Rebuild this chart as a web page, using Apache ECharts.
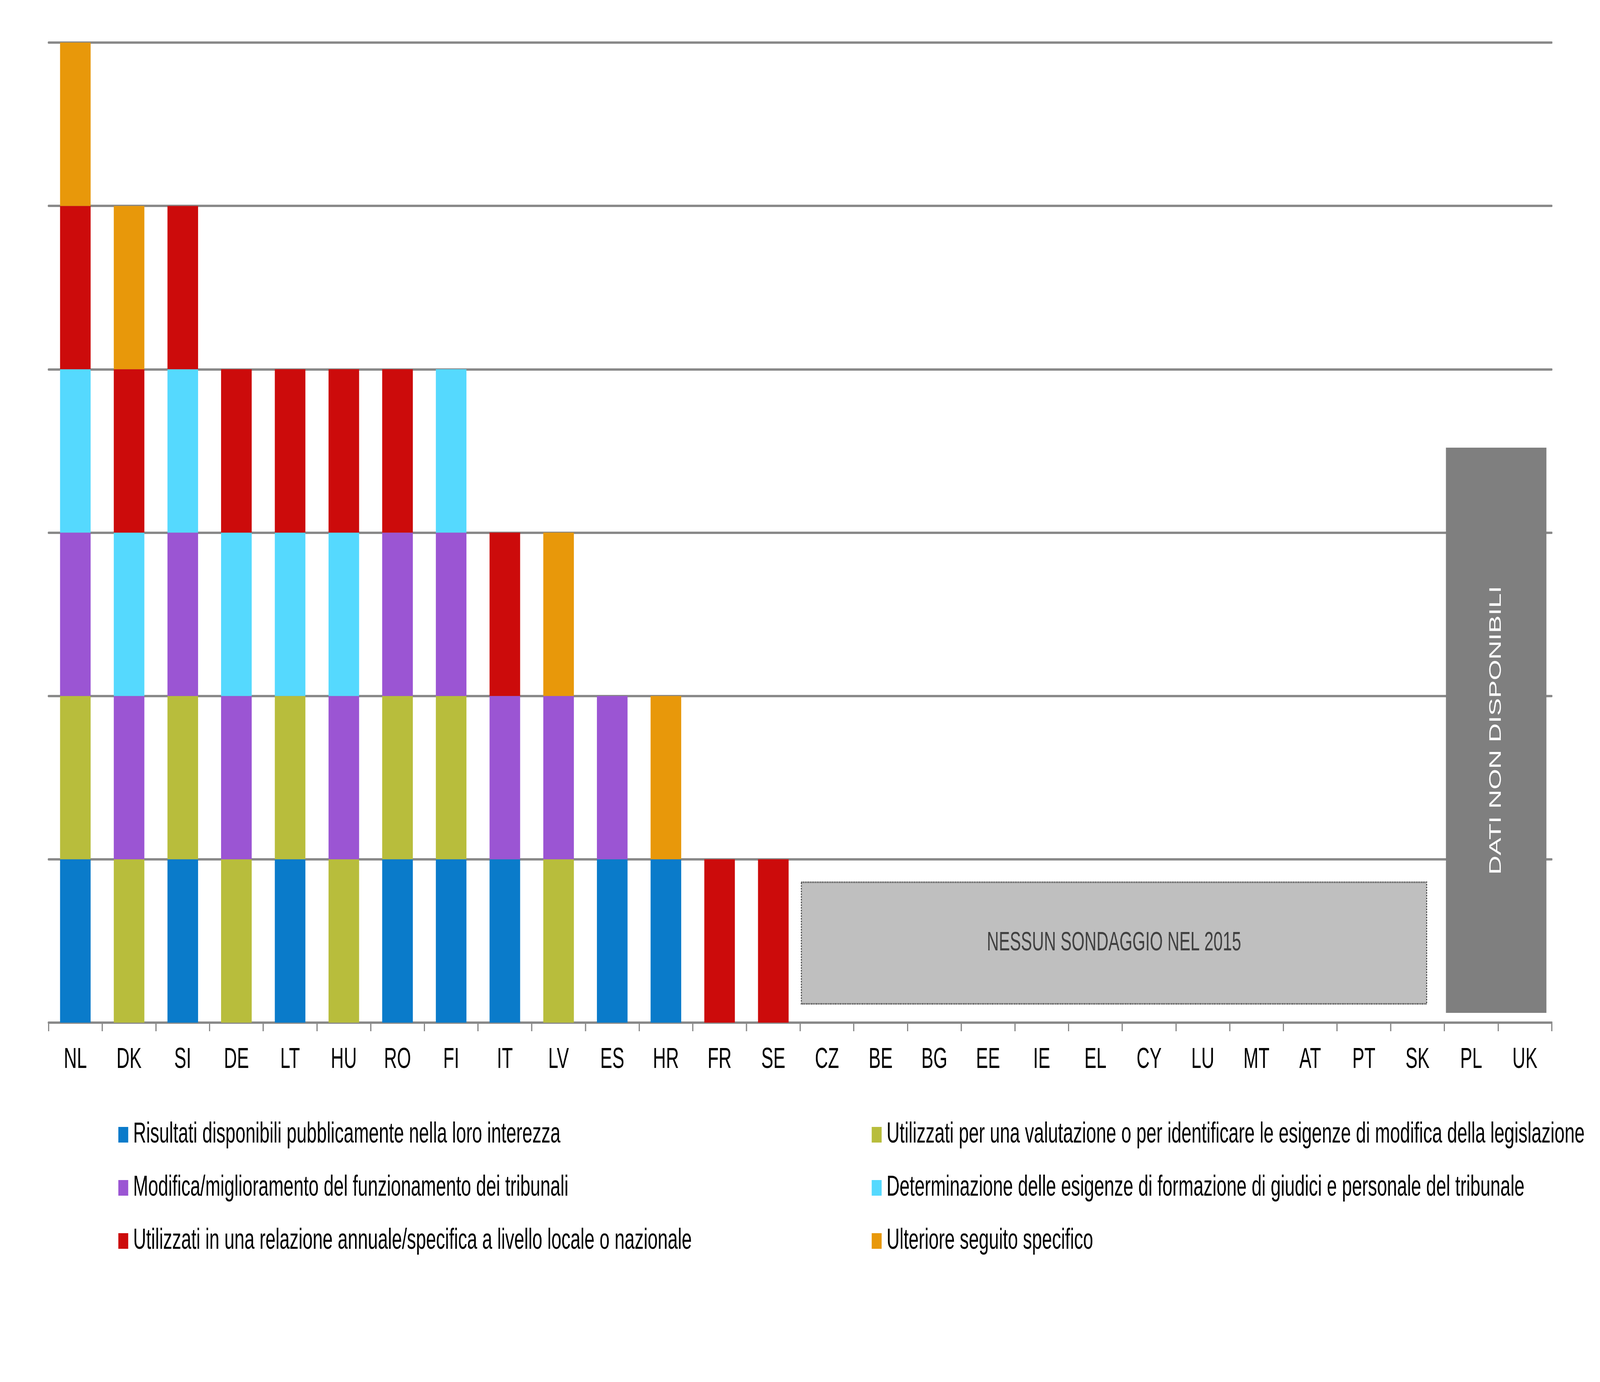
<!DOCTYPE html>
<html>
<head>
<meta charset="utf-8">
<script src="https://cdn.jsdelivr.net/npm/echarts@6/dist/echarts.min.js"></script>
<style>
html,body{margin:0;padding:0;background:#fff;overflow:hidden;}
#chart{position:absolute;left:0;top:0;width:6562px;height:3538px;transform-origin:0 0;}
</style>
</head>
<body>
<div id="chart"></div>
<script>
const categories = ['NL','DK','SI','DE','LT','HU','RO','FI','IT','LV','ES','HR','FR','SE','CZ','BE','BG','EE','IE','EL','CY','LU','MT','AT','PT','SK','PL','UK'];

const seriesNames = [
  'Risultati disponibili pubblicamente nella loro interezza',
  'Utilizzati per una valutazione o per identificare le esigenze di modifica della legislazione',
  'Modifica/miglioramento del funzionamento dei tribunali',
  'Determinazione delle esigenze di formazione di giudici e personale del tribunale',
  'Utilizzati in una relazione annuale/specifica a livello locale o nazionale',
  'Ulteriore seguito specifico'
];

const risultati     = [1,0,1,0,1,0,1,1,1,0,1,1,0,0, 0,0,0,0,0,0,0,0,0,0,0,0,0,0];
const valutazione   = [1,1,1,1,1,1,1,1,0,1,0,0,0,0, 0,0,0,0,0,0,0,0,0,0,0,0,0,0];
const modifica      = [1,1,1,1,0,1,1,1,1,1,1,0,0,0, 0,0,0,0,0,0,0,0,0,0,0,0,0,0];
const formazione    = [1,1,1,1,1,1,0,1,0,0,0,0,0,0, 0,0,0,0,0,0,0,0,0,0,0,0,0,0];
const relazione     = [1,1,1,1,1,1,1,0,1,0,0,0,1,1, 0,0,0,0,0,0,0,0,0,0,0,0,0,0];
const seguito       = [1,1,0,0,0,0,0,0,0,1,0,1,0,0, 0,0,0,0,0,0,0,0,0,0,0,0,0,0];

const yTicks = [0,1,2,3,4,5,6];

// annotation boxes: category span and value span
const noSurveyCats = ['CZ','SK'];
const noSurveyRange = [0.115, 0.86];
const noSurveyText = 'NESSUN SONDAGGIO NEL 2015';
const noDataCats = ['PL','UK'];
const noDataRange = [0.06, 3.52];
const noDataText = 'DATI NON DISPONIBILI';

const W = 6562, H = 3538;
const el = document.getElementById('chart');
const sx = (window.innerWidth || W) / W;
const sy = (window.innerHeight || H) / H;
el.style.transform = 'scale(' + sx + ',' + sy + ')';

const colors = ['#0a7bca','#b8bd3c','#9b55d3','#55d9fe','#cc0b0b','#e8980a'];
const FONT = '"Liberation Sans", Arial, sans-serif';

const values = [risultati, valutazione, modifica, formazione, relazione, seguito];

const barSeries = values.map((v, i) => ({
  name: seriesNames[i],
  type: 'bar',
  stack: 'total',
  data: v,
  barCategoryGap: '43%',
  itemStyle: { color: colors[i] },
  emphasis: { disabled: true }
}));

function boxSeries(name, cats, range, padL, padR, fill, stroke, dash, text, textColor, fontSize, rotation) {
  return {
    name: name,
    type: 'custom',
    silent: true,
    clip: false,
    z: 3,
    encode: { x: [0, 1], y: [2, 3] },
    data: [[categories.indexOf(cats[0]), categories.indexOf(cats[1]), range[0], range[1]]],
    renderItem: function (params, api) {
      const band = api.size([1, 0])[0];
      const pLow = api.coord([api.value(0), api.value(2)]);
      const pHigh = api.coord([api.value(1), api.value(3)]);
      const left = pLow[0] + padL * band;
      const right = pHigh[0] + padR * band;
      const top = pHigh[1];
      const bottom = pLow[1];
      const rectStyle = { fill: fill };
      if (stroke) {
        rectStyle.stroke = stroke;
        rectStyle.lineWidth = 4;
        rectStyle.lineDash = dash;
      }
      return {
        type: 'group',
        children: [
          { type: 'rect', shape: { x: left, y: top, width: right - left, height: bottom - top }, style: rectStyle },
          {
            type: 'text',
            x: (left + right) / 2,
            y: (top + bottom) / 2,
            rotation: rotation,
            style: {
              text: text,
              fill: textColor,
              font: fontSize + 'px ' + FONT,
              align: 'center',
              verticalAlign: 'middle'
            }
          }
        ]
      };
    }
  };
}

const legendCommon = {
  orient: 'vertical',
  top: 2860,
  itemWidth: 41,
  itemHeight: 40,
  itemGap: 56,
  icon: 'rect',
  selectedMode: false,
  textStyle: { fontSize: 74, fontFamily: FONT, color: '#000', lineHeight: 80, padding: [0, 0, 0, 15] }
};

const option = {
  animation: false,
  backgroundColor: '#ffffff',
  textStyle: { fontFamily: FONT },
  grid: { left: 199, right: 198, top: 109, bottom: 920, containLabel: false },
  legend: [
    Object.assign({}, legendCommon, { left: 480, data: [seriesNames[0], seriesNames[2], seriesNames[4]] }),
    Object.assign({}, legendCommon, { left: 3570, data: [seriesNames[1], seriesNames[3], seriesNames[5]] })
  ],
  xAxis: {
    type: 'category',
    data: categories,
    axisLine: { lineStyle: { color: '#898989', width: 6 } },
    axisTick: { show: true, length: 22, lineStyle: { color: '#898989', width: 5 } },
    axisLabel: { color: '#000', fontSize: 74, fontFamily: FONT, margin: 58, lineHeight: 76, interval: 0 },
    splitLine: { show: false }
  },
  yAxis: {
    type: 'value',
    min: yTicks[0],
    max: yTicks[yTicks.length - 1],
    interval: 1,
    axisLine: { show: false },
    axisTick: { show: false },
    axisLabel: { show: false },
    splitLine: { show: true, lineStyle: { color: '#898989', width: 6, cap: 'round' } }
  },
  series: barSeries.concat([
    boxSeries('noSurvey', noSurveyCats, noSurveyRange, -0.477, 0.17, '#bfbfbf', '#404040', [4, 3], noSurveyText, '#404040', 68, 0),
    boxSeries('noData', noDataCats, noDataRange, -0.471, 0.40, '#7f7f7f', null, null, noDataText, '#ffffff', 68, Math.PI / 2)
  ])
};

const chart = echarts.init(el, null, { renderer: 'canvas', width: W, height: H });
chart.setOption(option);
</script>
</body>
</html>
